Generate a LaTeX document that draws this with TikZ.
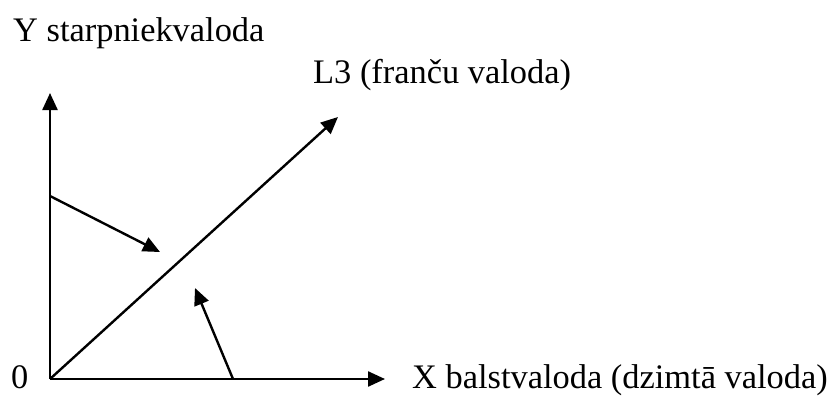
\documentclass[tikz,border=0pt]{standalone}
\usepackage{fontspec}
\setmainfont{Liberation Serif}
\usetikzlibrary{arrows.meta}
\begin{document}
\begin{tikzpicture}[x=1pt,y=-1pt,
  axis/.style={line width=2.4pt,-{Triangle[length=17pt,width=15pt]}},
  lbl/.style={anchor=base west,inner sep=0pt,font=\fontsize{34.4}{40}\selectfont}]
\useasboundingbox (0,0) rectangle (835,396);
\coordinate (O) at (50,379);
\coordinate (Ytip) at (50,93);
\coordinate (Xtip) at (385,379);
\coordinate (Ltip) at (338,117);
\coordinate (A) at (50,196);
\coordinate (Atip) at (160,252);
\coordinate (B) at (233,379);
\coordinate (Btip) at (195,288);
\draw[axis] (O) -- (Ytip);
\draw[axis] (O) -- (Xtip);
\draw[axis] (O) -- (Ltip);
\draw[axis] (A) -- (Atip);
\draw[axis] (B) -- (Btip);
\node[lbl] (ylab) at (13,42) {Y starpniekvaloda};
\node[lbl] (l3lab) at (313,83) {L3 (franču valoda)};
\node[lbl] (zero) at (11,388) {0};
\node[lbl] (xlab) at (412,388) {X balstvaloda (dzimtā valoda)};
\end{tikzpicture}
\end{document}
